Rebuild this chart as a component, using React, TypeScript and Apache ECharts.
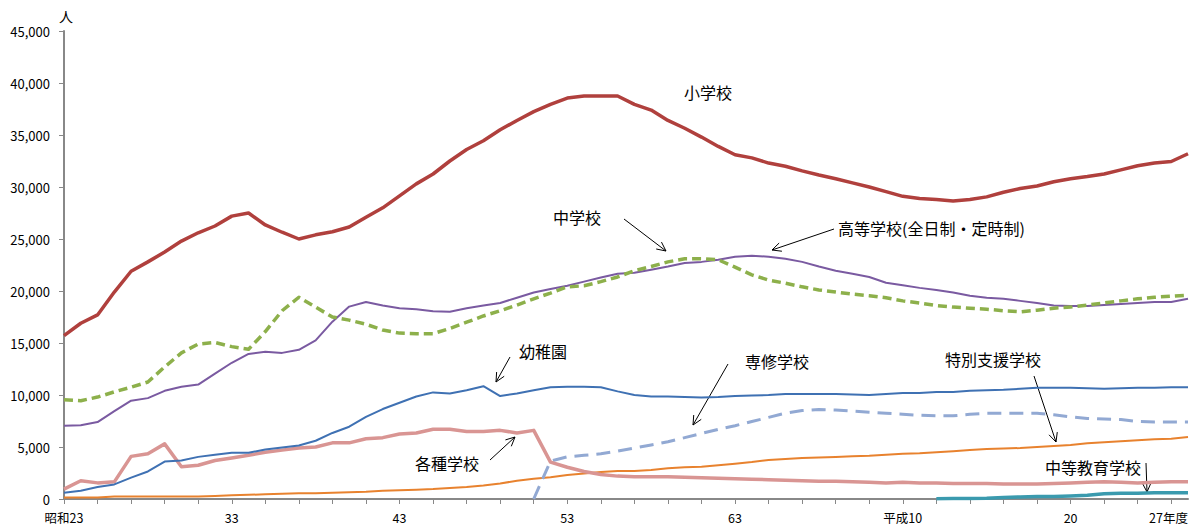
import React, { useEffect, useRef } from "react";
import * as echarts from "echarts";

// 昭和23年度(1948) 〜 平成27年度(2015)
const categories: string[] = Array.from({ length: 68 }, (_, i) =>
  i < 41 ? `昭和${23 + i}` : `平成${i - 40}`
);
const xLabelText: Record<number, string> = {
  0: "昭和23",
  10: "33",
  20: "43",
  30: "53",
  40: "63",
  50: "平成10",
  60: "20",
  67: "27年度",
};
const yTicks = { min: 0, max: 45000, interval: 5000 };

const elementary = [
  15700, 16900, 17700, 19900, 21900, 22800, 23750, 24800, 25600, 26250,
  27200, 27500, 26350, 25650, 25000, 25400, 25700, 26150, 27100, 28000,
  29150, 30300, 31250, 32500, 33600, 34450, 35500, 36400, 37250, 37950,
  38550, 38750, 38750, 38750, 37950, 37400, 36400, 35650, 34800, 33900,
  33100, 32800, 32300, 32000, 31550, 31150, 30800, 30400, 30000, 29550,
  29100, 28900, 28800, 28650, 28800, 29050, 29500, 29850, 30100, 30500,
  30800, 31000, 31250, 31650, 32050, 32300, 32450, 33200,
];
const juniorHigh = [
  7050, 7100, 7400, 8450, 9450, 9700, 10400, 10800, 11000, 12050,
  13100, 13950, 14150, 14050, 14350, 15250, 17050, 18500, 18950, 18600,
  18350, 18250, 18050, 18000, 18350, 18600, 18850, 19350, 19850, 20200,
  20500, 20900, 21300, 21650, 21750, 22050, 22350, 22700, 22800, 23000,
  23300, 23400, 23300, 23100, 22800, 22350, 21950, 21650, 21350, 20800,
  20550, 20300, 20100, 19850, 19550, 19350, 19250, 19050, 18850, 18600,
  18550, 18550, 18650, 18750, 18850, 18950, 18950, 19250,
];
const highSchool = [
  9550, 9450, 9800, 10300, 10750, 11250, 12700, 14050, 14900, 15050,
  14650, 14400, 16100, 18100, 19400, 18450, 17500, 17200, 16800, 16250,
  15950, 15900, 15900, 16400, 17000, 17600, 18100, 18650, 19250, 19800,
  20400, 20500, 20900, 21350, 21950, 22350, 22800, 23100, 23100, 23000,
  22300, 21550, 21050, 20750, 20400, 20100, 19900, 19700, 19550, 19350,
  19050, 18850, 18600, 18450, 18350, 18250, 18100, 18000, 18150, 18350,
  18450, 18650, 18850, 19050, 19250, 19400, 19500, 19600,
];
const kindergarten = [
  600, 800, 1150, 1400, 2050, 2650, 3600, 3700, 4050, 4250,
  4450, 4450, 4750, 4950, 5150, 5600, 6350, 6950, 7900, 8650,
  9250, 9850, 10250, 10150, 10450, 10850, 9900, 10150, 10450, 10750,
  10800, 10800, 10750, 10350, 10000, 9850, 9850, 9800, 9750, 9800,
  9900, 9950, 10000, 10100, 10100, 10100, 10100, 10050, 10000, 10100,
  10200, 10200, 10300, 10300, 10400, 10450, 10500, 10600, 10700, 10700,
  10700, 10650, 10600, 10650, 10700, 10700, 10750, 10750,
];
const miscSchool = [
  950, 1750, 1550, 1650, 4100, 4350, 5300, 3100, 3250, 3700,
  3950, 4200, 4500, 4700, 4900, 5000, 5400, 5400, 5800, 5900,
  6250, 6350, 6700, 6700, 6500, 6500, 6600, 6350, 6600, 3550,
  3050, 2650, 2350, 2200, 2150, 2150, 2150, 2100, 2050, 2000,
  1950, 1900, 1850, 1800, 1750, 1700, 1700, 1650, 1600, 1550,
  1600, 1550, 1550, 1500, 1500, 1500, 1450, 1450, 1450, 1500,
  1550, 1600, 1650, 1600, 1550, 1600, 1650, 1650,
];
const specialTraining = [
  null, null, null, null, null, null, null, null, null, null,
  null, null, null, null, null, null, null, null, null, null,
  null, null, null, null, null, null, null, null, 0, 3650,
  4050, 4200, 4350, 4600, 4900, 5200, 5500, 5900, 6300, 6700,
  7050, 7450, 7850, 8250, 8500, 8600, 8550, 8450, 8350, 8250,
  8150, 8050, 8000, 8000, 8150, 8250, 8250, 8250, 8250, 8100,
  7900, 7750, 7700, 7650, 7450, 7400, 7400, 7400,
];
const specialNeeds = [
  150, 150, 150, 250, 250, 250, 250, 250, 250, 300,
  350, 400, 450, 500, 550, 550, 600, 650, 700, 800,
  850, 900, 950, 1050, 1150, 1300, 1500, 1750, 1950, 2100,
  2300, 2450, 2600, 2700, 2700, 2800, 2950, 3050, 3100, 3250,
  3400, 3550, 3750, 3850, 3950, 4000, 4050, 4100, 4150, 4250,
  4350, 4400, 4500, 4600, 4700, 4800, 4850, 4900, 5000, 5100,
  5200, 5350, 5450, 5550, 5650, 5750, 5800, 5950,
];
const secondary = [
  null, null, null, null, null, null, null, null, null, null,
  null, null, null, null, null, null, null, null, null, null,
  null, null, null, null, null, null, null, null, null, null,
  null, null, null, null, null, null, null, null, null, null,
  null, null, null, null, null, null, null, null, null, null,
  null, null, 30, 50, 60, 80, 150, 200, 250, 250,
  300, 350, 500, 550, 550, 600, 600, 600,
];

const FONT = "'Noto Sans CJK JP', 'Noto Sans', sans-serif";

function arrowEls(x1: number, y1: number, x2: number, y2: number) {
  const ang = Math.atan2(y2 - y1, x2 - x1);
  const L = 10;
  const a = Math.PI / 7;
  const p1 = [x2 - L * Math.cos(ang - a), y2 - L * Math.sin(ang - a)];
  const p2 = [x2 - L * Math.cos(ang + a), y2 - L * Math.sin(ang + a)];
  return [
    { type: "line", shape: { x1, y1, x2, y2 }, style: { stroke: "#000", lineWidth: 1 } },
    {
      type: "polyline",
      shape: { points: [p1, [x2, y2], p2] },
      style: { stroke: "#000", fill: "none", lineWidth: 1 },
    },
  ];
}

function label(text: string, x: number, y: number) {
  return {
    type: "text",
    x,
    y,
    style: {
      text,
      fill: "#000",
      fontSize: 16,
      fontFamily: FONT,
      align: "left",
      verticalAlign: "middle",
    },
  };
}

export default function App() {
  const ref = useRef<HTMLDivElement>(null);
  useEffect(() => {
    const chart = echarts.init(ref.current!, null, { renderer: "svg" });
    const line = (name: string, data: any[], color: string, width: number, type: any = "solid", z = 2) => ({
      name,
      type: "line",
      data,
      symbol: "none",
      z,
      connectNulls: false,
      lineStyle: { color, width, type, cap: "butt", join: "round" },
    });
    chart.setOption({
      animation: false,
      backgroundColor: "#fff",
      textStyle: { fontFamily: FONT },
      grid: { left: 64, right: 12, top: 31, bottom: 31, containLabel: false },
      xAxis: {
        type: "category",
        data: categories,
        boundaryGap: false,
        axisLine: { lineStyle: { color: "#888", width: 2 } },
        axisTick: {
          show: true,
          length: 5,
          interval: (i: number) => i % 2 === 0,
          lineStyle: { color: "#888", width: 1 },
        },
        axisLabel: {
          interval: (i: number) => xLabelText[i] !== undefined,
          formatter: (_v: string, i: number) => xLabelText[i] ?? "",
          color: "#000",
          fontSize: 12.5,
          fontFamily: FONT,
          margin: 12,
          showMaxLabel: true,
          alignMaxLabel: "right",
        },
        splitLine: { show: false },
      },
      yAxis: {
        type: "value",
        min: yTicks.min,
        max: yTicks.max,
        interval: yTicks.interval,
        name: "人",
        nameLocation: "end",
        nameGap: 8,
        nameTextStyle: { color: "#000", fontSize: 14, fontFamily: FONT, align: "center", padding: [0, 0, 0, 4] },
        axisLine: { show: true, lineStyle: { color: "#888", width: 2 } },
        axisTick: { show: true, length: 5, lineStyle: { color: "#888" } },
        axisLabel: {
          color: "#000",
          fontSize: 13,
          fontFamily: FONT,
          margin: 14,
          formatter: (v: number) => v.toLocaleString("en-US"),
        },
        splitLine: { show: false },
      },
      series: [
        line("特別支援学校", specialNeeds, "#E8822E", 2),
        line("中等教育学校", secondary, "#3A9AAE", 3.5),
        line("専修学校", specialTraining, "#92A9D3", 3, [14, 8]),
        line("各種学校", miscSchool, "#D99593", 3.5),
        line("幼稚園", kindergarten, "#3F71B3", 2),
        line("中学校", juniorHigh, "#7A5AA1", 2),
        line("高等学校(全日制・定時制)", highSchool, "#8DB04B", 3.5, [9, 5]),
        line("小学校", elementary, "#B0403D", 3.5, "solid", 3),
      ],
      graphic: [
        label("小学校", 684, 92),
        label("中学校", 553, 217),
        label("高等学校(全日制・定時制)", 838, 228),
        label("幼稚園", 519, 351),
        label("各種学校", 415, 463),
        label("専修学校", 745, 361),
        label("特別支援学校", 945, 359),
        label("中等教育学校", 1045, 467),
        ...arrowEls(624, 219, 666, 251),
        ...arrowEls(834, 229, 772, 250),
        ...arrowEls(510, 357, 496, 382),
        ...arrowEls(490, 460, 515, 437),
        ...arrowEls(728, 364, 693, 425),
        ...arrowEls(1034, 376, 1056, 442),
        ...arrowEls(1146, 463, 1147, 492),
      ],
    });
    return () => chart.dispose();
  }, []);
  return (
    <div
      ref={ref}
      style={{ position: "fixed", left: 0, top: 0, width: 1200, height: 530, background: "#fff" }}
    />
  );
}
